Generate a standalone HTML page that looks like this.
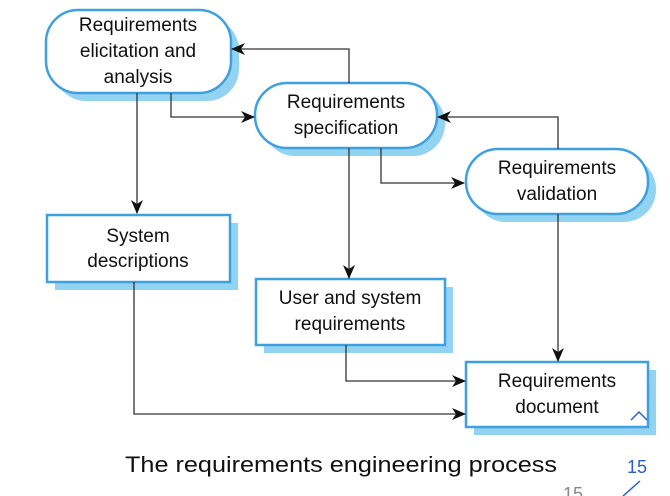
<!DOCTYPE html>
<html><head><meta charset="utf-8"><style>
html,body{margin:0;padding:0;background:#fff;width:670px;height:496px;overflow:hidden}
svg text{font-family:"Liberation Sans",sans-serif;fill:#111}
</style></head><body>
<svg width="670" height="496" viewBox="0 0 670 496" xmlns="http://www.w3.org/2000/svg">
<defs><marker id="a" markerWidth="14" markerHeight="12" refX="13" refY="6" orient="auto" markerUnits="userSpaceOnUse"><path d="M0,0 L14,6 L0,12 L4,6 Z" fill="#111"/></marker></defs>
<g fill="#93d3f2">
<rect x="54" y="18" width="185" height="83" rx="32"/>
<rect x="263" y="91" width="182" height="65" rx="32"/>
<rect x="474" y="157" width="182" height="65" rx="32"/>
<rect x="55" y="223" width="183" height="67"/>
<rect x="264" y="287" width="189" height="66"/>
<rect x="474" y="370" width="182" height="65"/>
</g>
<g fill="#fff" stroke="#3fa0e0" stroke-width="2.5">
<rect x="46" y="10" width="185" height="83" rx="32"/>
<rect x="255" y="83" width="182" height="65" rx="32"/>
<rect x="466" y="149" width="182" height="65" rx="32"/>
<rect x="47" y="215" width="183" height="67"/>
<rect x="256" y="279" width="189" height="66"/>
<rect x="466" y="362" width="182" height="65"/>
</g>
<g stroke="#333" stroke-width="1.3" fill="none" marker-end="url(#a)">
<polyline points="349,83 349,49 232,49"/>
<polyline points="171,93 171,117 254,117"/>
<polyline points="137,93 137,213"/>
<polyline points="349,148 349,278"/>
<polyline points="381,148 381,183 464,183"/>
<polyline points="558,149 558,117 438,117"/>
<polyline points="558,214 558,361"/>
<polyline points="346,345 346,381 465,381"/>
<polyline points="134,282 134,414 465,414"/>
</g>
<g font-size="19" text-anchor="middle">
<text x="138" y="31">Requirements</text>
<text x="138" y="57">elicitation and</text>
<text x="138" y="83">analysis</text>
<text x="346" y="108">Requirements</text>
<text x="346" y="134">specification</text>
<text x="557" y="174">Requirements</text>
<text x="557" y="200">validation</text>
<text x="138" y="242">System</text>
<text x="138" y="267">descriptions</text>
<text x="350" y="304">User and system</text>
<text x="350" y="330">requirements</text>
<text x="557" y="387">Requirements</text>
<text x="557" y="413">document</text>
</g>
<path d="M631,420 L639,412 L647,420" stroke="#2b5fd0" stroke-width="1.5" fill="none"/>
<text x="125" y="472" font-size="22" textLength="432" lengthAdjust="spacingAndGlyphs">The requirements engineering process</text>
<text x="627" y="473" font-size="18" style="fill:#2b5fd0">15</text>
<text x="563" y="500" font-size="18" style="fill:#888">15</text>
<path d="M623,496 L640,481" stroke="#2b5fd0" stroke-width="1.5"/>
</svg>
</body></html>
